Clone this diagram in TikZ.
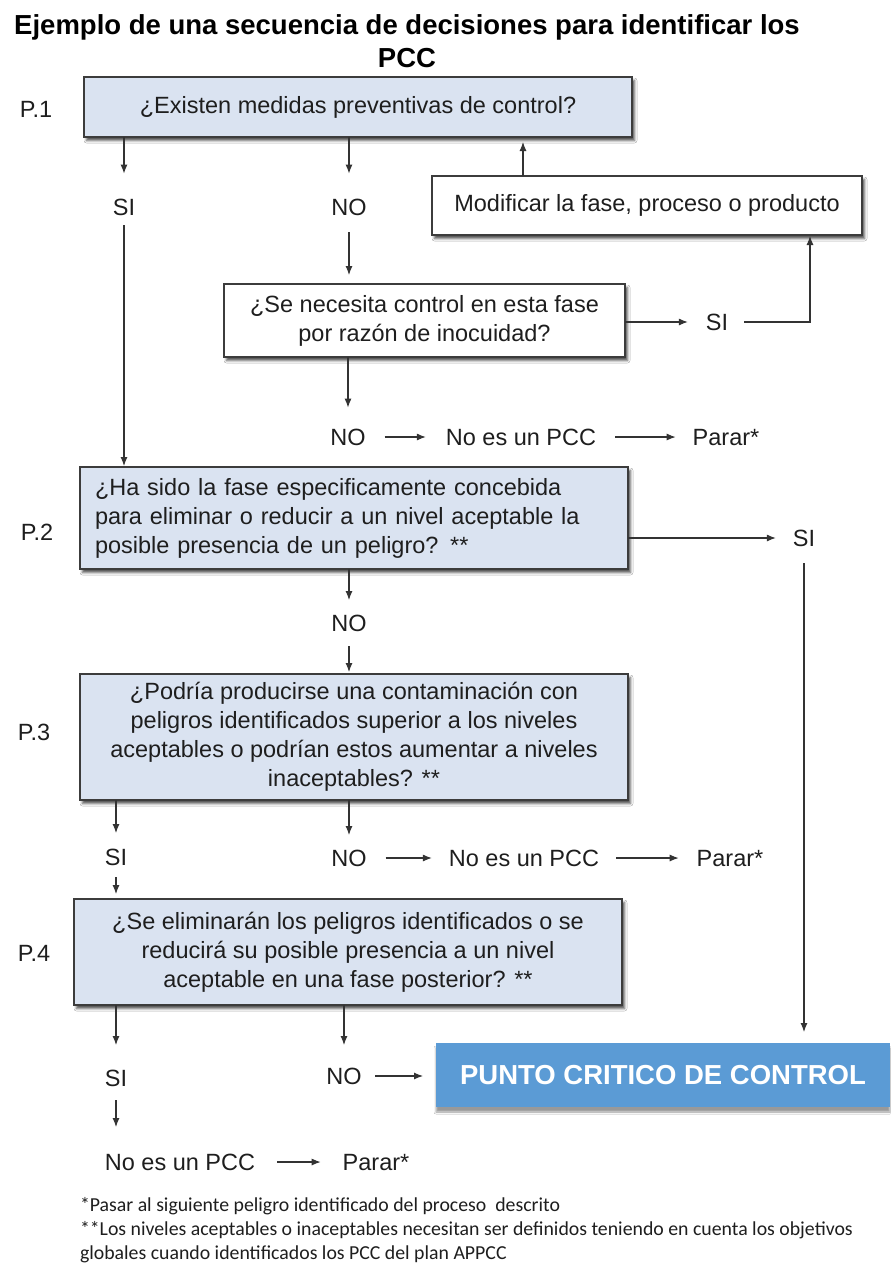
\documentclass[tikz,border=0pt]{standalone}
\usepackage{fontspec}
\setmainfont{Liberation Sans}
\newfontfamily\notefont{Carlito}
\usetikzlibrary{arrows.meta,shadows.blur}
\definecolor{ink}{HTML}{1E1E1E}
\definecolor{qfill}{HTML}{DAE3F1}
\definecolor{pccblue}{HTML}{5B9BD5}
\definecolor{edgegray}{HTML}{3C3C3C}
\definecolor{linegray}{HTML}{333333}

\begin{document}
\begin{tikzpicture}[x=1pt,y=-1pt,
  every node/.style={inner sep=0pt,outer sep=0pt},
  body/.style={font=\fontsize{23.5}{29}\selectfont, text=ink},
  lbl/.style={body, text height=16.8pt, text depth=0pt},
  boxbase/.style={draw=edgegray, line width=1.8pt, body, align=center,
    blur shadow={shadow xshift=2.5pt, shadow yshift=-3.5pt,
      shadow blur radius=2.5pt, shadow opacity=70}},
  qbox/.style={boxbase, fill=qfill},
  wbox/.style={boxbase, fill=white},
  arr/.style={draw=linegray, line width=1.1pt, -{Latex[length=9pt,width=7pt]}},
  note/.style={font=\notefont\fontsize{19.8}{20}\selectfont, text=ink, anchor=base west},
]
\fill[white] (0,0) rectangle (891,1264);
\useasboundingbox (0,0) rectangle (891,1264);

% title
\node[font=\bfseries\fontsize{27.5}{32.5}\selectfont, align=center, text=black]
  (title) at (407,41) {Ejemplo de una secuencia de decisiones para identificar los\\PCC};

% question boxes
\node[qbox, minimum width=548pt, minimum height=60pt] (p1) at (358,107)
  {¿Existen medidas preventivas de control?};
\node[wbox, minimum width=430pt, minimum height=59pt] (modif) at (647,205.5)
  {Modificar la fase, proceso o producto};
\node[wbox, minimum width=401pt, minimum height=73pt] (q1b) at (424.5,320.5)
  {¿Se necesita control en esta fase\\por razón de inocuidad?};
\node[qbox, text width=518pt, inner xsep=15pt, minimum height=102pt, align=left] (p2) at (354,518)
  {¿Ha sido la fase especificamente concebida\\para eliminar o reducir a un nivel aceptable la\\posible presencia de un peligro? **};
\node[qbox, minimum width=548pt, minimum height=126pt] (p3) at (354,737)
  {¿Podría producirse una contaminación con\\peligros identificados superior a los niveles\\aceptables o podrían estos aumentar a niveles\\inaceptables? **};
\node[qbox, minimum width=548pt, minimum height=106pt] (p4) at (348,952)
  {¿Se eliminarán los peligros identificados o se\\reducirá su posible presencia a un nivel\\aceptable en una fase posterior? **};
\node[fill=pccblue, minimum width=454pt, minimum height=64pt,
  font=\bfseries\fontsize{27.5}{32}\selectfont, text=white,
  blur shadow={shadow xshift=0pt, shadow yshift=-5pt, shadow blur radius=2pt, shadow opacity=40}]
  (pcc) at (663,1075) {PUNTO CRITICO DE CONTROL};

% step labels
\node[lbl] (p1lab) at (36,109) {P.1};
\node[lbl] (p2lab) at (37,532) {P.2};
\node[lbl] (p3lab) at (34,732) {P.3};
\node[lbl] (p4lab) at (34,953) {P.4};

% answers
\node[lbl] (si1) at (124,207) {SI};
\node[lbl] (no1) at (349,207) {NO};
\node[lbl] (si2) at (717,322) {SI};
\node[lbl] (no2) at (348,437) {NO};
\node[lbl] (npcc1) at (521,437) {No es un PCC};
\node[lbl] (parar1) at (726,437) {Parar*};
\node[lbl] (si3) at (804,538) {SI};
\node[lbl] (no3) at (349,623) {NO};
\node[lbl] (si4) at (116,857) {SI};
\node[lbl] (no4) at (349,858) {NO};
\node[lbl] (npcc2) at (524,858) {No es un PCC};
\node[lbl] (parar2) at (730,858) {Parar*};
\node[lbl] (si5) at (116,1078) {SI};
\node[lbl] (no5) at (344,1076) {NO};
\node[lbl] (npcc3) at (180,1162) {No es un PCC};
\node[lbl] (parar3) at (376,1162) {Parar*};

% footnotes
\node[note] (fn1) at (80,1211) {*Pasar al siguiente peligro identificado del proceso\ \ descrito};
\node[note] (fn2) at (80,1235) {**Los niveles aceptables o inaceptables necesitan ser definidos teniendo en cuenta los objetivos};
\node[note] (fn3) at (80,1259) {globales cuando identificados los PCC del plan APPCC};

% helper columns for bent / offset connectors
\coordinate (ret) at (523,0);
\coordinate (bend) at (810,0);

% connectors
\draw[arr, shorten >=25pt] (p1.south -| si1) -- (si1.north);
\draw[arr, shorten >=25pt] (p1.south -| no1) -- (no1.north);
\draw[arr, shorten <=10pt, shorten >=1pt] (si1.south) -- (si1.south |- p2.north);
\draw[arr, shorten <=17pt, shorten >=9pt] (no1.south) -- (no1.south |- q1b.north);
\draw[arr, shorten >=5pt] (ret |- modif.north) -- (ret |- p1.south);
\draw[arr, shorten >=18pt] (q1b.east |- si2) -- (si2.west);
\draw[arr, shorten <=16pt, shorten >=1pt] (si2.east) -- (bend |- si2) -- (bend |- modif.south);
\draw[arr, shorten >=21pt] (q1b.south -| no2) -- (no2.north);
\draw[arr, shorten <=19pt, shorten >=20pt] (no2.east) -- (npcc1.west);
\draw[arr, shorten <=19pt, shorten >=17pt] (npcc1.east) -- (parar1.west);
\draw[arr, shorten >=17pt] (p2.east |- si3) -- (si3.west);
\draw[arr, shorten <=17pt, shorten >=11pt] (si3.south) -- (si3.south |- pcc.north);
\draw[arr, shorten >=14.6pt] (p2.south -| no3) -- (no3.north);
\draw[arr, shorten <=15pt, shorten >=2pt] (no3.south) -- (no3.south |- p3.north);
\draw[arr, shorten >=15.6pt] (p3.south -| si4) -- (si4.north);
\draw[arr, shorten >=14.6pt] (p3.south -| no4) -- (no4.north);
\draw[arr, shorten <=19pt, shorten >=17pt] (no4.east) -- (npcc2.west);
\draw[arr, shorten <=17pt, shorten >=18pt] (npcc2.east) -- (parar2.west);
\draw[arr, shorten <=11.6pt, shorten >=5pt] (si4.south) -- (si4.south |- p4.north);
\draw[arr, shorten >=24.6pt] (p4.south -| si5) -- (si5.north);
\draw[arr, shorten >=22.6pt] (p4.south -| no5) -- (no5.north);
\draw[arr, shorten <=13.4pt, shorten >=13pt] (no5.east) -- (no5.east -| pcc.west);
\draw[arr, shorten <=13.6pt, shorten >=26.6pt] (si5.south) -- (si5.south |- npcc3.north);
\draw[arr, shorten <=22pt, shorten >=22pt] (npcc3.east) -- (npcc3.east -| parar3.west);
\end{tikzpicture}
\end{document}
